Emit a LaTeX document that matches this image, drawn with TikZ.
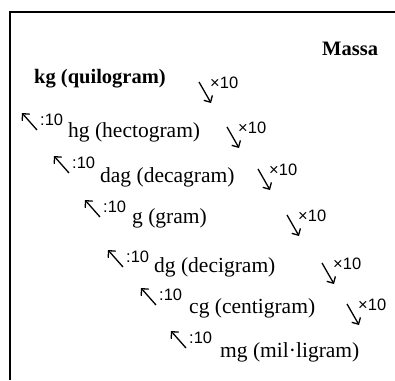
\documentclass[tikz,border=0pt]{standalone}
\usepackage{fontspec}
\setmainfont{Liberation Serif}
\newfontfamily\labelfont{Liberation Sans}
\usetikzlibrary{arrows.meta}
\begin{document}
\begin{tikzpicture}[x=1pt,y=-1pt,
  unit/.style={anchor=base west, inner sep=0pt, font=\fontsize{21.5}{26}\selectfont},
  boldunit/.style={anchor=base west, inner sep=0pt, font=\fontsize{20.5}{25}\selectfont\bfseries},
  factor/.style={anchor=west, inner sep=0pt, font=\labelfont\fontsize{16.5}{20}\selectfont},
  conv/.style={line width=1.3pt, -{Straight Barb[length=5pt,width=10pt]}},
  frame/.style={line width=1.6pt}]
\useasboundingbox (0,0) rectangle (395,380);
\draw[frame] (10,380) -- (10,12) -- (395,12);

\node[boldunit] (massa) at (322,55) {Massa};
\node[boldunit] (kg) at (34,83) {kg (quilogram)};
\node[unit] (hg)  at (68,137) {hg (hectogram)};
\node[unit] (dag) at (100,182) {dag (decagram)};
\node[unit] (g)   at (132,223) {g (gram)};
\node[unit] (dg)  at (154,272) {dg (decigram)};
\node[unit] (cg)  at (189,313) {cg (centigram)};
\node[unit] (mg)  at (220,357) {mg (mil·ligram)};

% multiply arrows
\foreach \n/\ax/\ay in {a/199/82, b/227/127, c/258/169, d/287/215, e/322/263, f/347/304}{
  \coordinate (m\n s) at (\ax,\ay);
  \coordinate (m\n e) at (\ax+12,\ay+21);
  \draw[conv] (m\n s) -- (m\n e);
  \node[factor] (mx\n) at (\ax+11,\ay+1) {×10};
}

% divide arrows
\foreach \n/\lx/\ly in {a/40/120, b/72/163, c/103/207, d/126/257, e/159/295, f/189/338}{
  \coordinate (d\n s) at (\lx-3,\ly+10);
  \coordinate (d\n e) at (\lx-18,\ly-7);
  \draw[conv] (d\n s) -- (d\n e);
  \node[factor] (dx\n) at (\lx,\ly) {:10};
}
\end{tikzpicture}
\end{document}
